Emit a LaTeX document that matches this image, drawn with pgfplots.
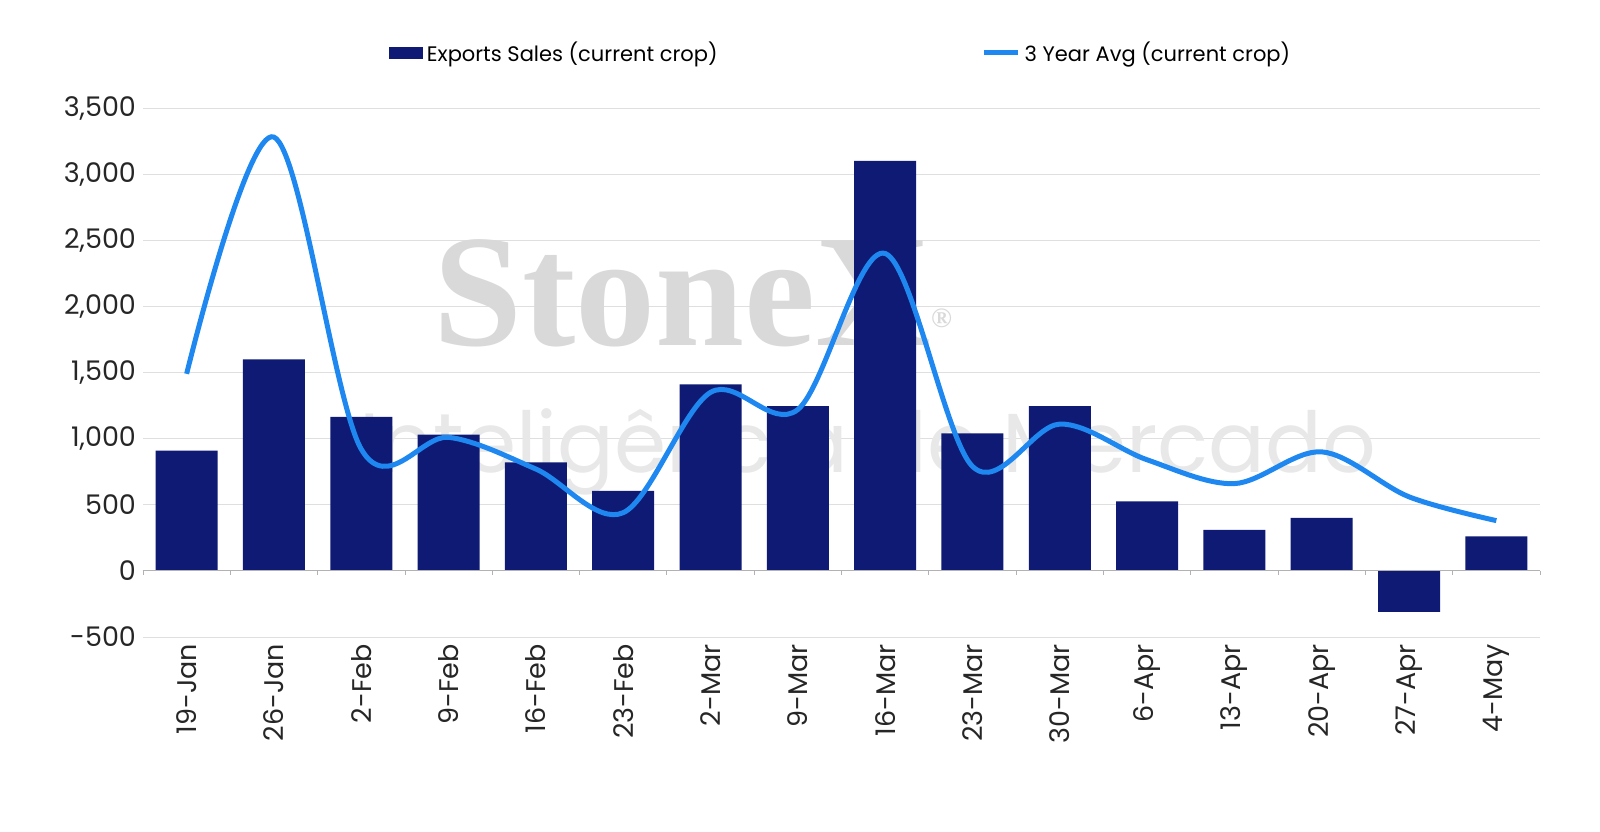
\documentclass[border=0pt]{standalone}
\usepackage{pgfplots}
\pgfplotsset{compat=1.18}
\usepackage{fontspec}
\setmainfont{Poppins}
\newfontfamily\wmserif{Liberation Serif}
\definecolor{barc}{HTML}{0E1A73}
\definecolor{linec}{HTML}{1E88F0}
\begin{document}
\begin{tikzpicture}
\begin{axis}[at={(0,0)},anchor=south west,
 scale only axis, width=698.5pt, height=264.5pt,
 xmin=-0.5, xmax=15.5, ymin=-500, ymax=3500,
 ytick={-500,0,...,3500},
 xtick={0,...,15},
 xticklabels={19-Jan,26-Jan,2-Feb,9-Feb,16-Feb,23-Feb,2-Mar,9-Mar,16-Mar,23-Mar,30-Mar,6-Apr,13-Apr,20-Apr,27-Apr,4-May},
 x tick label style={rotate=90,anchor=east,font=\fontsize{13.5}{13.5}\selectfont,text=black!85},
 y tick label style={font=\fontsize{13.5}{13.5}\selectfont,text=black!85},
 /pgf/number format/assume math mode=true,
 /pgf/number format/1000 sep={,},
 major tick length=0pt,
 axis line style={draw=none},
 ymajorgrids, grid style={gray!25},
 legend style={at={(0.5,1.104)},anchor=center,draw=none,font=\fontsize{10.5}{10.5}\selectfont,
   legend columns=2,/tikz/every even column/.append style={column sep=130pt}},
 legend cell align=left,
 clip=false]
\node[text=gray!30,font=\wmserif\bfseries\fontsize{80}{80}\selectfont] at (axis cs:5.8,2100) {StoneX\textsuperscript{\fontsize{14}{14}\selectfont ®}};
\node[text=gray!18,font=\fontsize{42}{42}\selectfont] at (axis cs:7.8,900) {Inteligência de Mercado};
\addplot[ybar, bar width=0.71, fill=barc, draw=none, area legend,
  legend image code/.code={\fill[barc] (0cm,-0.1cm) rectangle (0.6cm,0.1cm);}] coordinates {
(0,910) (1,1600) (2,1165) (3,1030) (4,820) (5,605) (6,1410) (7,1245) (8,3100) (9,1040) (10,1245) (11,525) (12,310) (13,400) (14,-310) (15,260)};
\addlegendentry{Exports Sales (current crop)}
\addplot[linec, line width=2.5pt, smooth, tension=0.55] coordinates {
(0,1490) (1,3280) (2,920) (3,1010) (4,770) (5,440) (6,1350) (7,1220) (8,2400) (9,790) (10,1110) (11,840) (12,660) (13,900) (14,560) (15,380)};
\addlegendentry{3 Year Avg (current crop)}
\draw[gray!60] (axis cs:-0.5,0) -- (axis cs:15.5,0);
\pgfplotsinvokeforeach{-0.5,0.5,...,15.5}{\draw[gray!60] (axis cs:#1,0) -- (axis cs:#1,-30);}
\end{axis}
\pgfresetboundingbox
\path[use as bounding box] (-71.5pt,-97pt) rectangle (728.5pt,318.5pt);
\end{tikzpicture}
\end{document}
